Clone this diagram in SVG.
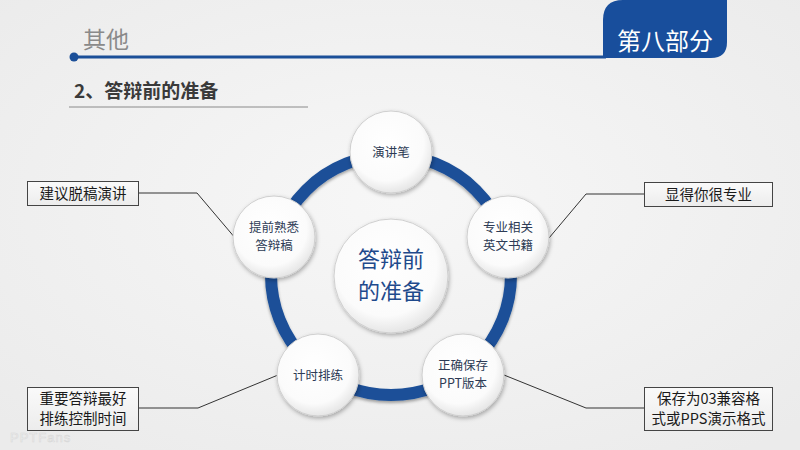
<svg xmlns="http://www.w3.org/2000/svg" width="800" height="450" viewBox="0 0 800 450">
<defs>
<radialGradient id="bg" cx="50%" cy="45%" r="70%">
<stop offset="0" stop-color="#f7f7f7"/>
<stop offset="1" stop-color="#ebebeb"/>
</radialGradient>
<radialGradient id="nodeFill" cx="45%" cy="40%" r="60%">
<stop offset="0" stop-color="#ffffff"/>
<stop offset="0.75" stop-color="#fbfbfb"/>
<stop offset="1" stop-color="#e6e6e6"/>
</radialGradient>
<linearGradient id="boxFill" x1="0" y1="0" x2="0" y2="1">
<stop offset="0" stop-color="#fafafa"/>
<stop offset="1" stop-color="#ececec"/>
</linearGradient>
<filter id="sh" x="-30%" y="-30%" width="160%" height="160%">
<feDropShadow dx="1" dy="2" stdDeviation="2" flood-color="#000" flood-opacity="0.3"/>
</filter>
<filter id="ringsh" x="-20%" y="-20%" width="140%" height="140%">
<feDropShadow dx="0" dy="2" stdDeviation="1.5" flood-color="#000" flood-opacity="0.35"/>
</filter>
</defs>
<style>
.cjk{font-family:"Noto Sans CJK SC","Noto Sans",sans-serif;}
.node circle{fill:url(#nodeFill);stroke:#cfcfcf;stroke-width:1;filter:url(#sh);}
.node text{font-size:12.5px;fill:#2d3b55;text-anchor:middle;}
.box rect{fill:url(#boxFill);stroke:#444;stroke-width:1;}
.box text{font-size:14.5px;fill:#1a1a1a;text-anchor:middle;}
.conn path{fill:none;stroke:#333;stroke-width:1;}
</style>
<rect width="800" height="450" fill="url(#bg)"/>

<!-- header -->
<g id="header">
<text x="83" y="48" class="cjk" font-size="23" fill="#8a8a8a">其他</text>
<line x1="74" y1="57" x2="606" y2="57" stroke="#1b4f98" stroke-width="3"/>
<circle cx="74" cy="57" r="4.5" fill="#1b4f98"/>
<path d="M603,58 V20 Q603,0 623,0 H727 V42 Q727,58 711,58 Z" fill="#184e9c"/>
<text x="665" y="50" class="cjk" font-size="24" fill="#ffffff" text-anchor="middle">第八部分</text>
<text x="74" y="98" class="cjk" font-size="19" font-weight="bold" fill="#3a3a3a">2、答辩前的准备</text>
<line x1="69" y1="107" x2="308" y2="107" stroke="#8a8a8a" stroke-width="1"/>
</g>

<!-- ring -->
<g id="ring">
<circle cx="391" cy="275" r="120" fill="none" stroke="#1b4f98" stroke-width="12" filter="url(#ringsh)"/>
</g>

<!-- connectors -->
<g id="connectors" class="conn">
<path d="M138,193 H197 L236,239"/>
<path d="M644,194 H586 L549,238"/>
<path d="M139,408 H198 L278,375"/>
<path d="M644,408 H586 L504,375"/>
</g>

<!-- center -->
<g id="center" class="node">
<circle cx="391" cy="276" r="57"/>
<text x="391" y="267" class="cjk" style="font-size:22px;fill:#1f4a8c">答辩前</text>
<text x="391" y="299" class="cjk" style="font-size:22px;fill:#1f4a8c">的准备</text>
</g>

<g id="node-top" class="node">
<circle cx="391" cy="152" r="41"/>
<text x="391" y="157" class="cjk">演讲笔</text>
</g>
<g id="node-left" class="node">
<circle cx="274" cy="237" r="41"/>
<text x="274" y="232" class="cjk">提前熟悉</text>
<text x="274" y="250" class="cjk">答辩稿</text>
</g>
<g id="node-right" class="node">
<circle cx="508" cy="237" r="41"/>
<text x="508" y="232" class="cjk">专业相关</text>
<text x="508" y="250" class="cjk">英文书籍</text>
</g>
<g id="node-bl" class="node">
<circle cx="318" cy="375" r="41"/>
<text x="318" y="380" class="cjk">计时排练</text>
</g>
<g id="node-br" class="node">
<circle cx="463" cy="375" r="41"/>
<text x="463" y="370" class="cjk">正确保存</text>
<text x="463" y="388" class="cjk">PPT版本</text>
</g>

<!-- callout boxes -->
<g id="box-tl" class="box">
<rect x="27.5" y="181.5" width="111" height="24"/>
<text x="83" y="199" class="cjk">建议脱稿演讲</text>
</g>
<g id="box-tr" class="box">
<rect x="644.5" y="182.5" width="128" height="24"/>
<text x="708.5" y="200" class="cjk">显得你很专业</text>
</g>
<g id="box-bl" class="box">
<rect x="27.5" y="387.5" width="111" height="43"/>
<text x="83" y="404" class="cjk">重要答辩最好</text>
<text x="83" y="424" class="cjk">排练控制时间</text>
</g>
<g id="box-br" class="box">
<rect x="644.5" y="387.5" width="128" height="43"/>
<text x="708.5" y="404" class="cjk">保存为03兼容格</text>
<text x="708.5" y="424" class="cjk">式或PPS演示格式</text>
</g>

<!-- watermark -->
<text x="10" y="442" font-family="Liberation Sans, sans-serif" font-size="13" fill="#f4f4f4" stroke="#d8d8d8" stroke-width="0.6" letter-spacing="1">PPTFans</text>
</svg>
